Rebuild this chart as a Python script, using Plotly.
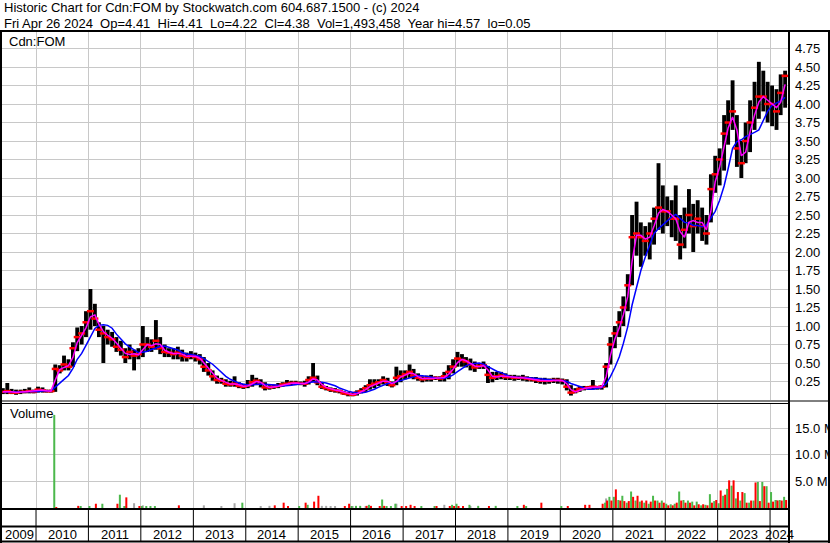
import numpy as np
import pandas as pd
import plotly.graph_objects as go

# monthly bars, May 2009 .. Apr 2024 (one row per year)
hi = [
    .16, .23, .15, .14, .14, .15, .17, .14,
    .18, .17, .14, .14, .48, .47, .60, .55, .78, .98, 1.00, 1.20,
    1.50, 1.30, 1.05, 1.00, .95, .92, .85, .80, .70, .75, .68, .70,
    1.00, .85, .82, 1.08, .85, .75, .70, .70, .72, .68, .64, .66,
    .64, .62, .58, .50, .40, .33, .30, .28, .26, .32, .24, .22,
    .27, .34, .30, .28, .24, .20, .21, .23, .24, .27, .26, .26,
    .25, .26, .32, .50, .33, .24, .19, .17, .16, .14, .12, .11,
    .10, .13, .16, .20, .28, .28, .28, .32, .30, .25, .45, .40,
    .40, .48, .42, .36, .32, .33, .34, .32, .32, .38, .47, .55,
    .65, .62, .58, .56, .52, .50, .52, .46, .38, .38, .38, .36,
    .34, .34, .33, .34, .32, .31, .31, .30, .30, .29, .30, .30,
    .29, .28, .20, .16, .19, .19, .19, .27, .19, .20, .50, .85,
    1.00, 1.20, 1.40, 1.70, 2.50, 2.68, 2.40, 2.35, 2.40, 2.60, 3.20, 2.90,
    2.75, 2.70, 2.90, 2.50, 2.60, 2.85, 2.65, 2.70, 2.60, 2.50, 3.05, 3.30,
    3.40, 3.85, 4.05, 4.32, 3.85, 3.50, 3.75, 4.05, 4.30, 4.57, 4.45, 4.30,
    4.25, 4.20, 4.40, 4.45,
]
lo = [
    .08, .08, .08, .07, .08, .09, .09, .09,
    .10, .10, .10, .10, .11, .36, .40, .40, .45, .66, .75, .85,
    .95, 1.00, .85, .50, .75, .72, .65, .60, .50, .55, .40, .55,
    .58, .65, .65, .68, .62, .58, .58, .55, .55, .52, .52, .55,
    .52, .48, .38, .33, .26, .22, .22, .18, .18, .18, .16, .15,
    .16, .18, .20, .17, .13, .14, .15, .16, .18, .19, .20, .20,
    .20, .18, .21, .24, .20, .15, .13, .11, .10, .09, .07, .05,
    .05, .06, .09, .11, .14, .16, .19, .21, .19, .17, .20, .24,
    .28, .30, .28, .26, .24, .25, .25, .27, .25, .25, .28, .36,
    .45, .45, .44, .40, .38, .42, .42, .23, .24, .27, .28, .27,
    .27, .26, .27, .26, .25, .25, .23, .22, .21, .22, .23, .22,
    .21, .13, .06, .09, .11, .13, .14, .14, .14, .14, .17, .48,
    .70, .85, 1.00, 1.20, 1.55, 1.95, 1.80, 1.95, 1.90, 2.10, 2.30, 2.25,
    2.35, 2.20, 2.15, 1.90, 2.05, 2.25, 2.00, 2.25, 2.15, 2.10, 2.40, 2.80,
    2.90, 3.10, 3.45, 3.65, 3.15, 3.00, 3.20, 3.35, 3.65, 3.80, 3.90, 3.75,
    3.70, 3.65, 3.85, 3.95,
]
cl = [
    .11, .12, .10, .10, .11, .11, .12, .11,
    .14, .13, .12, .12, .42, .40, .48, .45, .70, .85, .90, 1.05,
    1.20, 1.10, .95, .90, .85, .82, .72, .68, .58, .65, .60, .62,
    .75, .75, .72, .80, .70, .65, .64, .62, .64, .60, .58, .60,
    .58, .55, .45, .40, .32, .27, .26, .22, .21, .22, .19, .18,
    .20, .24, .26, .22, .17, .17, .18, .19, .21, .22, .23, .23,
    .22, .22, .27, .30, .24, .18, .16, .14, .13, .12, .09, .08,
    .07, .10, .12, .16, .20, .22, .24, .27, .24, .20, .30, .32,
    .35, .38, .33, .30, .28, .29, .29, .30, .29, .32, .38, .45,
    .56, .54, .52, .48, .44, .46, .47, .34, .30, .32, .33, .31,
    .31, .30, .30, .30, .29, .28, .27, .26, .26, .26, .27, .27,
    .26, .18, .10, .12, .15, .16, .17, .18, .17, .18, .45, .75,
    .90, 1.05, 1.25, 1.55, 2.20, 2.25, 2.20, 2.15, 2.25, 2.45, 2.60, 2.55,
    2.55, 2.45, 2.45, 2.10, 2.30, 2.50, 2.35, 2.45, 2.35, 2.25, 2.85, 3.05,
    3.25, 3.60, 3.75, 3.90, 3.40, 3.20, 3.50, 3.75, 3.95, 4.10, 4.10, 4.00,
    4.00, 3.90, 4.15, 4.38,
]

# peak daily volume per month, millions: up days, down days, unchanged days
vol_up = [
    0, 0, 0, 0, 0, 0, 0, 0,
    0, 0, 0, 0, 17.5, 0, 0, 0, 0, 0, 0.3, 0,
    0.3, 0, 0, 0.8, 0, 0, 0, 2.5, 0.2, 0, 0, 0,
    0.2, 0.2, 0.2, 0.2, 0, 0, 0, 0, 0, 0, 0, 0,
    0, 0, 0, 0, 0, 0, 0, 0, 0, 0, 0, 1.0,
    0, 0, 0, 0, 0, 0, 0, 0, 0, 0, 0, 0,
    0.2, 0, 0.6, 0, 0, 0, 0, 0, 0, 0, 0, 0,
    0.2, 0.4, 0.4, 0, 0.6, 0, 0, 1.6, 0.2, 0.2, 0.8, 0,
    0, 0, 0, 0, 0.2, 0, 0, 0.2, 0, 0, 0, 0.6,
    0.8, 0, 0, 0.6, 0, 0.4, 0, 0, 0, 0.4, 0, 0,
    0, 0, 0.3, 0, 0.2, 0, 0, 0, 0, 0, 0, 0,
    0.2, 0, 0, 0, 0, 0, 0, 0, 0, 0, 1.0, 2.1,
    2.1, 1.5, 2.3, 1.0, 3.1, 1.4, 1.2, 1.0, 0.8, 2.3, 1.4, 1.4,
    0.8, 0.7, 0.8, 3.1, 1.5, 1.4, 1.2, 1.2, 0.5, 0.6, 2.6, 1.3,
    0.9, 2.3, 3.6, 4.2, 1.8, 1.4, 2.8, 1.0, 1.4, 4.9, 4.9, 4.1,
    3.0, 1.5, 1.5, 2.1,
]
vol_dn = [
    0, 0, 0, 0, 0, 0, 0, 0,
    0, 0, 0, 0, 0.1, 0, 0, 0, 0, 0.4, 0, 0,
    0, 0.8, 0, 0, 0, 0, 0.8, 0, 2.0, 0, 0, 0.3,
    0, 0, 0, 0, 0, 0, 0, 0, 0.5, 0, 0, 0,
    0, 0, 0, 0, 0, 0, 0, 0, 0, 0, 0, 0,
    0, 0, 0, 0, 0, 0, 0.5, 0, 1.0, 0.2, 0, 0,
    0, 1.0, 0, 1.2, 2.3, 0, 0, 0, 0, 0, 0.2, 0.8,
    0, 0, 0, 0.4, 0.4, 0, 0.2, 0.4, 0, 0, 0, 0.2,
    0.2, 0.6, 0.2, 0, 0, 0, 0, 0.2, 0, 0, 0.2, 0.3,
    0.3, 0.2, 0, 0, 0, 0, 0, 0.2, 0, 0, 0, 0,
    0, 0, 0, 0.6, 0, 0, 0, 1.0, 0, 0, 0, 0,
    0, 0.2, 0, 0, 0, 0.6, 0.6, 0, 0, 0.8, 1.4, 1.4,
    3.5, 1.4, 1.3, 1.3, 2.1, 2.3, 1.4, 1.4, 1.2, 1.4, 1.0, 1.0,
    0.5, 0.5, 1.0, 1.4, 1.0, 1.0, 0.5, 0.7, 0.7, 0.5, 1.0, 1.5,
    3.3, 2.5, 5.2, 5.2, 3.0, 3.0, 1.0, 1.4, 4.8, 1.3, 4.1, 1.0,
    1.2, 1.4, 1.4, 1.5,
]
vol_flat = [
    0, 0, 0, 0, 0, 0, 0, 0,
    0, 0, 0, 0, 0, 0, 0, 0, 0, 0, 0, 0,
    0, 0, 0, 0, 0, 0, 0, 0, 0.3, 0, 0.9, 0,
    0.5, 0, 0, 0, 0, 0, 0, 0, 0, 0, 0, 0,
    0, 0, 0.5, 0, 0, 0, 0.2, 0, 0, 0.9, 0, 0,
    0, 0, 0, 0.3, 0, 0.4, 0, 0, 0, 0, 0, 0,
    0, 0, 0, 0, 0, 0.4, 0.4, 0.3, 0.3, 0, 0, 0,
    0.2, 0, 0, 0.2, 0, 0, 0, 0, 0, 0, 0.8, 0,
    0, 0, 0, 0, 0, 0, 0, 0, 0, 0.6, 0, 0,
    0, 0, 0, 0.3, 0, 0, 0, 0, 0, 0, 0, 0,
    0, 0, 0, 0, 0, 0, 0, 0, 0, 0, 0, 0,
    0, 0, 0, 0, 0, 0, 0, 0, 0, 0, 1.8, 0,
    0, 0, 0, 0, 0, 0, 0, 0, 0, 0, 0, 0,
    0, 0, 0, 0, 0, 0, 0, 0, 0, 0, 0, 0,
    0, 0, 0, 0, 0, 0, 0, 0, 0, 0, 0, 0,
    0, 1.5, 0, 0,
]

years = list(range(2009, 2025))
price_ticks = [0.25, 0.50, 0.75, 1.00, 1.25, 1.50, 1.75, 2.00, 2.25, 2.50,
               2.75, 3.00, 3.25, 3.50, 3.75, 4.00, 4.25, 4.50, 4.75]
vol_ticks = [5, 10, 15]
vol_ticktext = ["5.0 M", "10.0 M", "15.0 M"]

header1 = "Historic Chart for Cdn:FOM by Stockwatch.com 604.687.1500 - (c) 2024"
header2 = ("Fri Apr 26 2024  Op=4.41  Hi=4.41  Lo=4.22  Cl=4.38  "
           "Vol=1,493,458  Year hi=4.57  lo=0.05")

FONT = "Liberation Sans, Arial, sans-serif"
GRID = "#c8c8c8"
GREEN = "#4cb84c"
DAY = 86400000

months = pd.date_range("2009-05-01", periods=len(cl), freq="MS") + pd.Timedelta(days=14)
hi_a, lo_a = np.array(hi), np.array(lo)
close = pd.Series(cl)
ma_fast = close.rolling(2, min_periods=1).mean()
ma_slow = close.rolling(6, min_periods=1).mean()

x_start, x_end = "2009-05-09", "2024-05-12"

# pixel helpers (plot area 2..789 wide, 32..541 tall)
def px(xpix):
    return (xpix - 2) / 787

def py(ypix):
    return (541 - ypix) / 509

fig = go.Figure()

# price: high-low bars, close ticks, moving averages
fig.add_trace(go.Bar(x=months, y=hi_a - lo_a, base=lo_a, width=27 * DAY,
                     marker=dict(color="black", line=dict(width=0)),
                     xaxis="x", yaxis="y", hoverinfo="skip"))
fig.add_trace(go.Scatter(x=months, y=cl, mode="markers",
                         marker=dict(symbol="line-ew", size=5,
                                     line=dict(color="#ff0000", width=2.5)),
                         xaxis="x", yaxis="y", hoverinfo="skip"))
fig.add_trace(go.Scatter(x=months, y=ma_slow, mode="lines",
                         line=dict(color="#0000ff", width=1.5),
                         xaxis="x", yaxis="y", hoverinfo="skip"))
fig.add_trace(go.Scatter(x=months, y=ma_fast, mode="lines",
                         line=dict(color="#ff00ff", width=1.5),
                         xaxis="x", yaxis="y", hoverinfo="skip"))

# volume
W = 14 * DAY
fig.add_trace(go.Bar(x=months, y=vol_flat, width=W, offset=-W / 2,
                     marker=dict(color="#a8a8a8", line=dict(width=0)),
                     xaxis="x2", yaxis="y2", hoverinfo="skip"))
fig.add_trace(go.Bar(x=months, y=vol_up, width=W, offset=-W,
                     marker=dict(color=GREEN, line=dict(width=0)),
                     xaxis="x2", yaxis="y2", hoverinfo="skip"))
fig.add_trace(go.Bar(x=months, y=vol_dn, width=W, offset=0,
                     marker=dict(color="#ff0000", line=dict(width=0)),
                     xaxis="x2", yaxis="y2", hoverinfo="skip"))

xax = dict(type="date", range=[x_start, x_end], showgrid=True, gridcolor=GRID,
           gridwidth=1, dtick="M12", tick0="2010-01-01", showticklabels=False,
           ticks="", zeroline=False, showline=False, fixedrange=True)
yax = dict(side="right", showgrid=True, gridcolor=GRID, gridwidth=1, ticks="",
           zeroline=False, showline=False, fixedrange=True, automargin=False,
           ticklabelstandoff=5,
           tickfont=dict(family=FONT, size=13, color="black"))

# frame lines
def hline(y, x0=0, x1=830, w=2):
    return dict(type="line", xref="paper", yref="paper", x0=px(x0), x1=px(x1),
                y0=py(y), y1=py(y), line=dict(color="black", width=w))

def vline(x, y0=30, y1=543, w=2):
    return dict(type="line", xref="paper", yref="paper", x0=px(x), x1=px(x),
                y0=py(y0), y1=py(y1), line=dict(color="black", width=w))

shapes = [
    hline(31), hline(401, w=1), hline(403.5, 0, 789, w=1), hline(509, 0, 789),
    hline(526.5, 0, 789), hline(541.5),
    vline(1), vline(789), vline(829),
]
for yr in years[1:]:
    shapes.append(dict(type="line", xref="x", yref="paper",
                       x0=f"{yr}-01-01", x1=f"{yr}-01-01", y0=py(509), y1=py(541),
                       line=dict(color="black", width=1)))

annotations = [
    dict(text=header1, x=px(2), y=py(8), xanchor="left", yanchor="middle"),
    dict(text=header2, x=px(2), y=py(23.5), xanchor="left", yanchor="middle"),
    dict(text="Cdn:FOM", x=px(7), y=py(41.5), xanchor="left", yanchor="middle"),
    dict(text="Volume", x=px(8), y=py(413), xanchor="left", yanchor="middle"),
]
for a in annotations:
    a.update(xref="paper", yref="paper", showarrow=False,
             font=dict(family=FONT, size=13, color="black"))

edges = [pd.Timestamp(x_start)] + [pd.Timestamp(f"{y}-01-01") for y in years[1:]] \
        + [pd.Timestamp(x_end)]
for i, yr in enumerate(years):
    mid = edges[i] + (edges[i + 1] - edges[i]) / 2
    annotations.append(dict(text=str(yr), x=mid, xref="x", y=py(534), yref="paper",
                            xanchor="center", yanchor="middle", showarrow=False,
                            font=dict(family=FONT, size=13, color="black")))

fig.update_layout(
    template="none",
    width=830, height=543,
    margin=dict(l=2, r=41, t=32, b=2),
    paper_bgcolor="white", plot_bgcolor="white",
    showlegend=False, barmode="overlay",
    font=dict(family=FONT, size=13, color="black"),
    xaxis=dict(xax, domain=[0, 1], anchor="y"),
    xaxis2=dict(xax, domain=[0, 1], anchor="y2", matches="x"),
    yaxis=dict(yax, domain=[py(400), 1], range=[0, 4.973],
               tickvals=price_ticks, ticktext=[f"{v:.2f}" for v in price_ticks]),
    yaxis2=dict(yax, domain=[py(508), py(403)], range=[0, 19.74],
                tickvals=vol_ticks, ticktext=vol_ticktext),
    shapes=shapes,
    annotations=annotations,
)

# the page's default body margin would push the chart 8px off the window origin
fig.write_html("out.html", config={"displayModeBar": False},
               post_script="document.body.style.margin='0';")
